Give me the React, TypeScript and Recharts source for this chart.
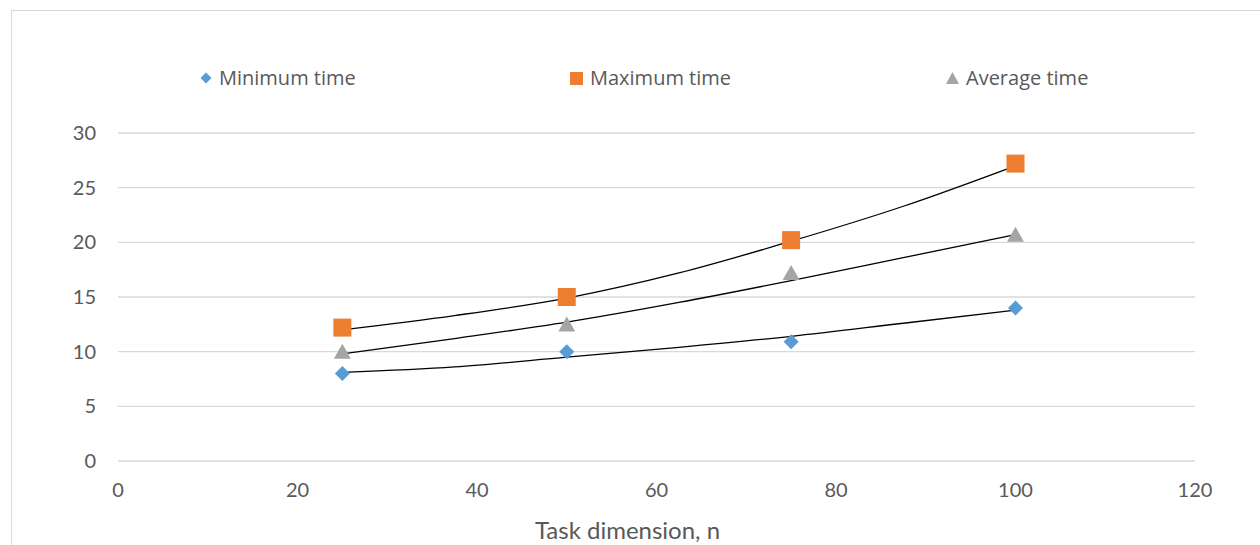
import React from 'react';
import {
  ComposedChart, Scatter, Line, XAxis, YAxis, CartesianGrid, Legend, Label
} from 'recharts';

// measured points (task dimension n -> time)
const dims = [25, 50, 75, 100];
const minTime = [8, 10, 10.9, 14];
const maxTime = [12.2, 15, 20.2, 27.2];
const avgTime = [9.9, 12.4, 17.1, 20.6];

// trendlines
const trendDims = [25, 37.5, 50, 62.5, 75, 87.5, 100];
const minTrend = [8.1, 8.6, 9.5, 10.4, 11.4, 12.6, 13.8];
const maxTrend = [12.0, 13.3, 14.9, 17.2, 20.1, 23.3, 27.0];
const avgTrend = [9.8, 11.2, 12.7, 14.5, 16.5, 18.6, 20.7];

const xTicks = [0, 20, 40, 60, 80, 100, 120];
const yTicks = [0, 5, 10, 15, 20, 25, 30];

const seriesNames = ['Minimum time', 'Maximum time', 'Average time'];
const seriesColors = ['#5B9BD5', '#ED7D31', '#A5A5A5'];

const toPoints = (xs: number[], ys: number[]) => xs.map((x, i) => ({ x, y: ys[i] }));

const FONT = 'Lato, "Open Sans", sans-serif';
const LEGEND_FONT = '"Open Sans", Lato, sans-serif';
const TEXT = '#595959';

const Diamond = ({ cx, cy, fill }: any) => (
  <path d={`M${cx},${cy - 7.5} L${cx + 7.5},${cy} L${cx},${cy + 7.5} L${cx - 7.5},${cy} Z`} fill={fill} />
);
const Square = ({ cx, cy, fill }: any) => (
  <rect x={cx - 9} y={cy - 9} width={18} height={18} fill={fill} />
);
const Triangle = ({ cx, cy, fill }: any) => (
  <path d={`M${cx},${cy - 9} L${cx + 8.5},${cy + 6} L${cx - 8.5},${cy + 6} Z`} fill={fill} />
);

const shapes = [Diamond, Square, Triangle];

const YTick = ({ y, payload }: any) => (
  <text x={96} y={y} dy="0.35em" textAnchor="end" fill={TEXT} fontSize={20} fontFamily={FONT}>
    {payload.value}
  </text>
);

const LegendIcon = ({ idx }: { idx: number }) => {
  const c = seriesColors[idx];
  if (idx === 0) return <svg width={12} height={12}><path d="M6,0.5 L11.5,6 L6,11.5 L0.5,6 Z" fill={c} /></svg>;
  if (idx === 1) return <svg width={13} height={13}><rect x={0} y={0} width={13} height={13} fill={c} /></svg>;
  return <svg width={13} height={12}><path d="M6.5,0 L13,12 L0,12 Z" fill={c} /></svg>;
};

const legendLeft = [200, 570, 946];

const renderLegend = () => (
  <div style={{ position: 'relative', width: 1260, height: 30 }}>
    {seriesNames.map((name, i) => (
      <div key={name} style={{
        position: 'absolute', left: legendLeft[i], top: 0, display: 'flex', alignItems: 'center',
        gap: 7, fontFamily: LEGEND_FONT, fontSize: 20, color: TEXT, whiteSpace: 'nowrap', lineHeight: '28px'
      }}>
        <LegendIcon idx={i} />
        <span>{name}</span>
      </div>
    ))}
  </div>
);

export default function App() {
  const points = [toPoints(dims, minTime), toPoints(dims, maxTime), toPoints(dims, avgTime)];
  const trends = [toPoints(trendDims, minTrend), toPoints(trendDims, maxTrend), toPoints(trendDims, avgTrend)];

  return (
    <div style={{ position: 'absolute', left: 0, top: 0, width: 1260, height: 545, overflow: 'hidden', background: '#fff' }}>
      <div style={{
        position: 'absolute', left: 11, top: 10, width: 1400, height: 700,
        borderLeft: '1px solid #d9d9d9', borderTop: '1px solid #d9d9d9'
      }} />
      <ComposedChart
        width={1260}
        height={545}
        margin={{ top: 133, right: 65, left: 58, bottom: 44 }}
        style={{ position: 'absolute', left: 0, top: 0 }}
      >
        <CartesianGrid vertical={false} stroke="#d9d9d9" strokeWidth={1.3} />
        <XAxis
          type="number"
          dataKey="x"
          domain={[0, 120]}
          ticks={xTicks}
          axisLine={false}
          tickLine={false}
          tickMargin={16}
          height={40}
          tick={{ fill: TEXT, fontSize: 20, fontFamily: FONT }}
          allowDuplicatedCategory={false}
        >
          <Label
            value="Task dimension, n"
            position="bottom"
            offset={21}
            dx={-29}
            style={{ fill: TEXT, fontSize: 24, fontFamily: FONT }}
          />
        </XAxis>
        <YAxis
          type="number"
          dataKey="y"
          domain={[0, 30]}
          ticks={yTicks}
          axisLine={false}
          tickLine={false}
          width={60}
          tick={<YTick />}
        />
        <Legend verticalAlign="middle" layout="horizontal" content={renderLegend}
          wrapperStyle={{ top: 64, left: 0, width: 1260 }} />
        {seriesNames.map((name, i) => (
          <Scatter
            key={name}
            name={name}
            data={points[i]}
            fill={seriesColors[i]}
            shape={shapes[i]}
            isAnimationActive={false}
          />
        ))}
        {trends.map((t, i) => (
          <Line
            key={'trend' + i}
            data={t}
            dataKey="y"
            type="monotone"
            stroke="#000"
            strokeWidth={1.3}
            dot={false}
            activeDot={false}
            legendType="none"
            isAnimationActive={false}
          />
        ))}
      </ComposedChart>
    </div>
  );
}
